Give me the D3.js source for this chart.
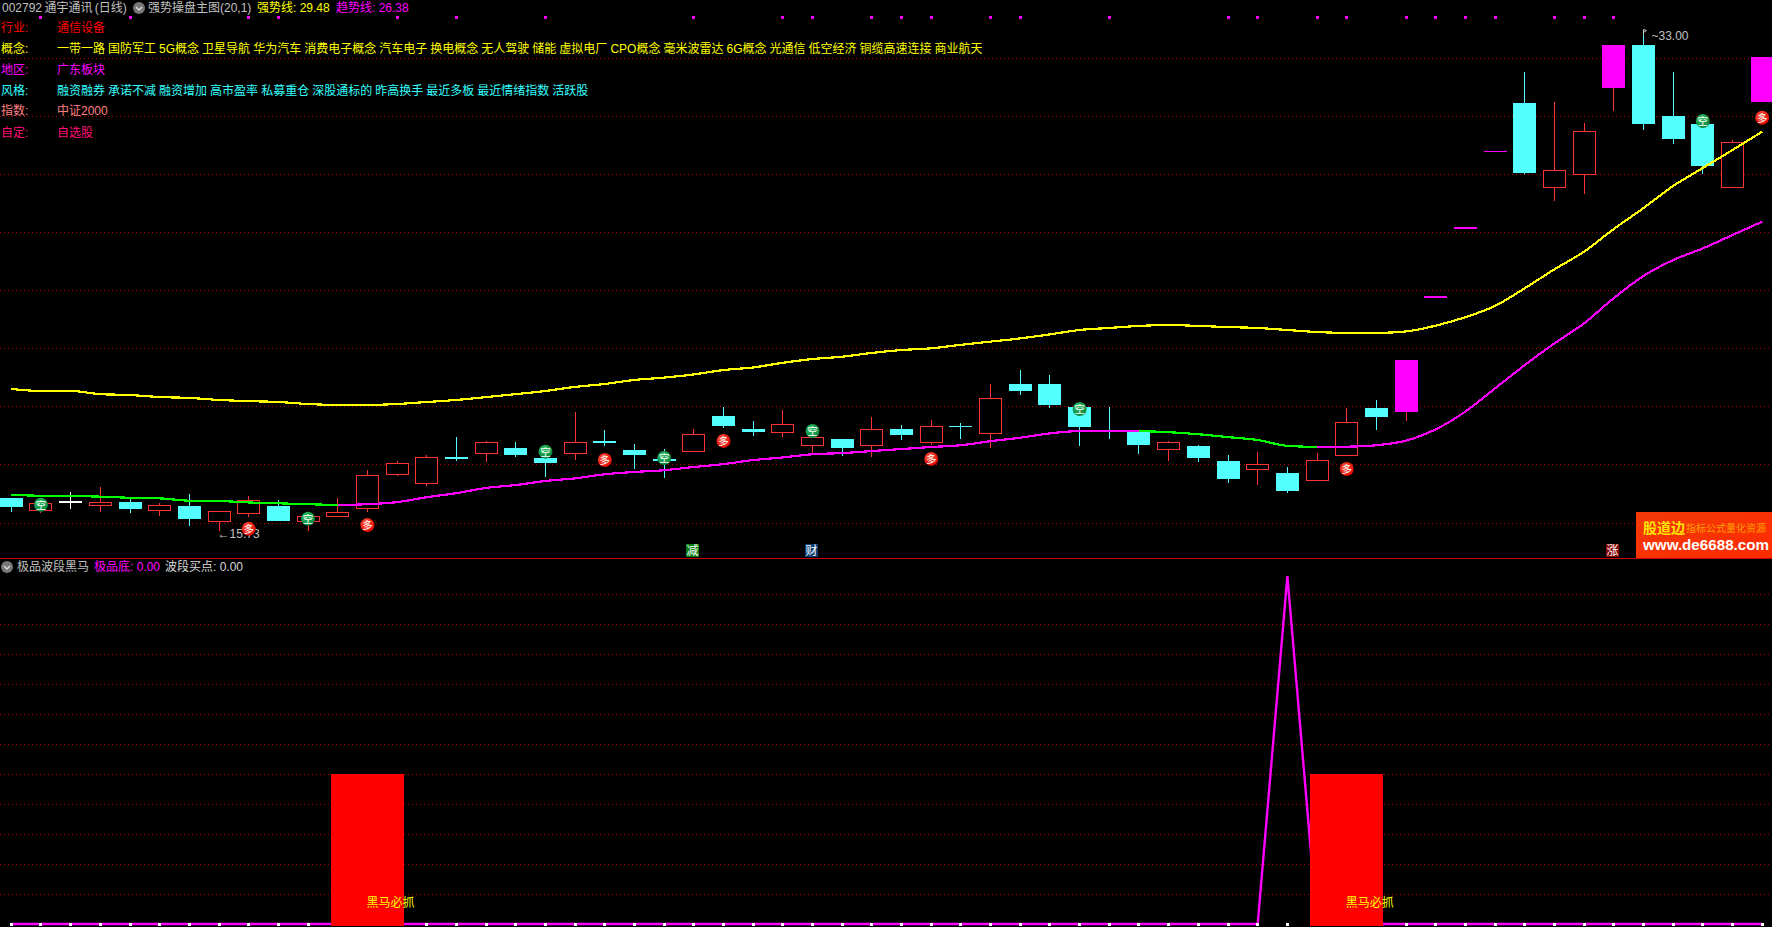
<!DOCTYPE html>
<html><head><meta charset="utf-8">
<style>html,body{margin:0;padding:0;background:#000;overflow:hidden}svg{display:block}
text{font-family:"Liberation Sans","Noto Sans CJK SC",sans-serif;font-size:12px;white-space:pre}</style>
<script src="https://cdnjs.cloudflare.com/ajax/libs/d3/7.8.5/d3.min.js"></script>
</head><body><svg id="c" width="1772" height="927"></svg>
<script>
// ---------- data ----------
const opens  =[16.86,16.42,16.72,16.60,16.72,16.42,16.59,16.05,16.32,16.59,16.05,16.22,16.49,17.66,17.35,18.27,18.39,18.58,18.24,18.39,18.83,18.52,18.21,18.46,19.69,19.23,19.11,18.66,18.89,18.66,19.24,18.77,19.35,19.08,20.79,20.79,20.00,19.19,19.13,18.53,18.65,18.14,17.84,17.72,17.46,18.31,19.96,19.83,23.78,26.16,28.80,30.47,27.55,28.00,30.98,32.47,30.02,29.75,27.55,30.50];
const highs  =[16.86,16.68,17.07,17.23,16.85,16.69,17.00,16.40,16.93,16.79,16.36,16.86,17.83,18.14,18.34,18.96,18.83,18.79,18.24,19.82,19.20,18.72,18.55,19.23,20.00,19.51,19.89,19.00,18.89,19.65,19.38,19.55,19.45,20.79,21.27,21.10,20.14,20.00,19.20,18.83,18.69,18.34,18.45,17.93,18.41,19.96,20.24,21.62,23.78,26.16,28.80,31.54,30.50,29.78,32.47,33.00,31.54,29.75,29.19,32.05];
const lows   =[16.39,16.36,16.49,16.39,16.36,16.24,15.90,15.73,16.21,16.07,15.74,16.22,16.38,17.62,17.27,18.14,18.11,18.27,17.59,18.17,18.65,17.86,17.55,18.46,19.27,19.00,18.96,18.38,18.31,18.27,18.86,18.69,18.89,18.59,20.41,19.96,18.65,18.89,18.38,18.14,18.10,17.38,17.31,17.03,17.46,18.31,19.20,19.53,23.78,26.16,28.80,28.02,27.09,27.33,30.19,29.54,29.06,28.02,27.55,30.50];
const closes =[16.55,16.68,16.72,16.71,16.48,16.61,16.14,16.40,16.78,16.07,16.23,16.37,17.64,18.06,18.26,18.20,18.78,18.34,18.07,18.78,18.76,18.34,18.14,19.06,19.34,19.14,19.40,18.95,18.58,19.23,19.03,19.33,19.31,20.30,20.55,20.07,19.31,19.15,18.69,18.78,18.24,17.52,18.02,17.10,18.16,19.47,19.65,21.62,23.78,26.16,28.80,28.06,28.15,29.49,32.47,29.75,29.23,28.30,29.11,32.05];
const limitUpBars=[47,48,49,50,54,59];
const whiteDojiBars=[2];
const strongLine=[20.62,20.55,20.55,20.44,20.41,20.34,20.31,20.24,20.20,20.17,20.10,20.07,20.07,20.10,20.17,20.24,20.34,20.44,20.55,20.69,20.79,20.93,21.01,21.12,21.27,21.36,21.52,21.65,21.73,21.86,21.96,22.02,22.14,22.25,22.36,22.50,22.65,22.72,22.79,22.82,22.79,22.75,22.72,22.65,22.58,22.55,22.55,22.60,22.80,23.09,23.48,24.09,24.74,25.35,26.13,26.85,27.61,28.23,28.85,29.48];
const trendLine=[16.97,16.94,16.93,16.91,16.87,16.85,16.77,16.76,16.71,16.68,16.65,16.62,16.65,16.72,16.89,17.03,17.21,17.31,17.45,17.54,17.68,17.76,17.82,17.93,18.03,18.17,18.26,18.37,18.41,18.48,18.55,18.62,18.68,18.82,18.94,19.09,19.17,19.18,19.17,19.13,19.06,18.96,18.86,18.66,18.62,18.63,18.68,18.84,19.23,19.84,20.64,21.44,22.19,22.88,23.75,24.51,25.06,25.46,25.92,26.38];
const greenRuns=[[0,11],[38,44]];
const magentaRuns=[[11,38],[44,59]];
const duoBars=[8,12,20,24,31,45,59];
const duoPrices=[15.80,15.93,18.17,18.83,18.21,17.86,29.96];
const kongBars=[1,10,18,22,27,36,57];
const kongPrices=[16.63,16.15,18.46,18.24,19.17,19.93,29.85];
const topDotBars=[1,4,8,9,13,15,18,23,26,27,29,30,31,33,34,37,41,42,44,45,47,48,49,50,52,53,54];
const gridPrices=[32,30,28,26,24,22,20,18,16];
const gridLower=[10,20,30,40,50,60,70,80,90,100,110];
const lowerLineBars=[0,42,43,44,59];
const lowerLineVals=[0,0,116,0,0];
const lowerBarBars=[12,45];
const lowerBarVal=50;
const lowerBarLabel="黑马必抓";
const badgeBars=[23,27,54];
const badgeText=["减","财","涨"];
const badgeFill=["#0a7d14","#0b3d73","#8a0505"];
const tagNames=["行业:","概念:","地区:","风格:","指数:","自定:"];
const tagValues=["通信设备","一带一路 国防军工 5G概念 卫星导航 华为汽车 消费电子概念 汽车电子 换电概念 无人驾驶 储能 虚拟电厂 CPO概念 毫米波雷达 6G概念 光通信 低空经济 铜缆高速连接 商业航天","广东板块","融资融券 承诺不减 融资增加 高市盈率 私募重仓 深股通标的 昨高换手 最近多板 最近情绪指数 活跃股","中证2000","自选股"];
const tagColors=["#ff0000","#ffff00","#ff00ff","#33ffff","#ff8080","#ff0f78"];

// ---------- layout ----------
const W=1772,H=927,svg=d3.select("#c");
const x=d3.scaleLinear().domain([0,59]).range([11.3,1762.2]);
const y=d3.scaleLinear().domain([33,15.73]).range([29.5,530.9]);
const yL=d3.scaleLinear().domain([0,115]).range([924,579]);
const BW=23;
const RED="#ff3232",CY="#54ffff",MG="#ff00ff";
const bars=d3.range(60);
const crisp=s=>s.attr("shape-rendering","crispEdges");
svg.append("rect").attr("width",W).attr("height",H).attr("fill","#000");

const defs=svg.append("defs");
function grad(id,a,b){const g=defs.append("radialGradient").attr("id",id).attr("cx","40%").attr("cy","35%").attr("r","70%");
 g.append("stop").attr("offset","0").attr("stop-color",a);g.append("stop").attr("offset","1").attr("stop-color",b);}
grad("gDuo","#ff5a3c","#e00000");grad("gKong","#2fbf63","#06803a");
const wm=defs.append("linearGradient").attr("id","gWm").attr("x1",0).attr("x2",1).attr("y1",0).attr("y2",1);
wm.append("stop").attr("offset","0").attr("stop-color","#f23a06");wm.append("stop").attr("offset","1").attr("stop-color","#ff2a00");

// grids
const gridG=svg.append("g").attr("stroke","#b40000").attr("stroke-width",1).attr("stroke-dasharray","1 3");
crisp(gridG.selectAll(".a").data(gridPrices).join("line").attr("class","a").attr("x1",0).attr("x2",W).attr("y1",d=>y(d)).attr("y2",d=>y(d)));
crisp(gridG.selectAll(".b").data(gridLower).join("line").attr("class","b").attr("x1",0).attr("x2",W).attr("y1",d=>yL(d)).attr("y2",d=>yL(d)));
crisp(svg.append("line").attr("x1",0).attr("x2",W).attr("y1",558.5).attr("y2",558.5).attr("stroke","#c80000").attr("stroke-width",1.5));

// badges
badgeBars.forEach((b,i)=>{
 const bx=Math.floor(x(b))-7;
 crisp(svg.append("rect").attr("x",bx).attr("y",544).attr("width",13).attr("height",13).attr("fill",badgeFill[i]));
 svg.append("text").attr("x",bx+6.5).attr("y",554.8).attr("text-anchor","middle").attr("fill","#fff").text(badgeText[i]);
});

// candles
const cG=svg.append("g");
bars.forEach(i=>{
 const o=opens[i],h=highs[i],l=lows[i],c=closes[i],cx=Math.floor(x(i))+0.5;
 const lim=limitUpBars.includes(i),up=c>o,white=whiteDojiBars.includes(i);
 const col=white?"#ffffff":lim?MG:(up?RED:CY);
 const wickCol=white?"#ffffff":(lim?RED:col);
 const top=y(Math.max(o,c)),bot=y(Math.min(o,c));
 if(o===c){
  crisp(cG.append("line").attr("x1",cx).attr("x2",cx).attr("y1",y(h)).attr("y2",y(l)).attr("stroke",wickCol));
  crisp(cG.append("line").attr("x1",cx-11.5).attr("x2",cx+11.5).attr("y1",y(c)).attr("y2",y(c)).attr("stroke",col).attr("stroke-width",lim?1.4:1.5));
  return;
 }
 crisp(cG.append("line").attr("x1",cx).attr("x2",cx).attr("y1",y(h)).attr("y2",top).attr("stroke",wickCol));
 crisp(cG.append("line").attr("x1",cx).attr("x2",cx).attr("y1",bot).attr("y2",y(l)).attr("stroke",wickCol));
 if(up&&!lim){
  crisp(cG.append("rect").attr("x",cx-11).attr("y",top).attr("width",BW-1).attr("height",bot-top).attr("fill","#000").attr("stroke",RED).attr("stroke-width",1));
 }else{
  crisp(cG.append("rect").attr("x",cx-11.5).attr("y",top).attr("width",BW).attr("height",bot-top).attr("fill",col));
 }
});

// labels of extremes
const flagX=x(55),flagY=y(33);
svg.append("path").attr("d",d3.line()([[flagX,flagY+6],[flagX,flagY],[flagX+3,flagY+1],[flagX,flagY+3]])).attr("fill","none").attr("stroke","#c8c8c8");
svg.append("text").attr("x",flagX+8).attr("y",flagY+10).attr("fill","#c0c0c0").text("~33.00");
svg.append("text").attr("x",x(7)-1.5).attr("y",y(15.73)+7).attr("fill","#c0c0c0").text("←15.73");

// MA lines
const ln=vals=>d3.line().x(i=>x(i)).y(i=>y(vals[i])).curve(d3.curveMonotoneX);
const drawMA=(idx,vals,col)=>svg.append("path").attr("d",ln(vals)(idx)).attr("fill","none").attr("stroke",col).attr("stroke-width",2.2).attr("shape-rendering","crispEdges");
drawMA(bars,strongLine,"#ffff00");
greenRuns.forEach(r=>drawMA(d3.range(r[0],r[1]+1),trendLine,"#00ff00"));
magentaRuns.forEach(r=>drawMA(d3.range(r[0],r[1]+1),trendLine,MG));

// markers
function marker(b,p,fill,t){
 const g=svg.append("g").attr("transform",`translate(${x(b)},${y(p)})`);
 g.append("circle").attr("r",7).attr("fill",`url(#${fill})`);
 g.append("text").attr("y",4).attr("text-anchor","middle").attr("fill","#fff").style("font-size","10.5px").text(t);
}
duoBars.forEach((b,i)=>marker(b,duoPrices[i],"gDuo","多"));
kongBars.forEach((b,i)=>marker(b,kongPrices[i],"gKong","空"));

// top dots
crisp(svg.append("g").selectAll("rect").data(topDotBars).join("rect").attr("x",d=>Math.floor(x(d))-1).attr("y",16).attr("width",3).attr("height",3).attr("fill",MG));

// lower panel
const lowerPts=lowerLineBars.map((b,i)=>[x(b),yL(lowerLineVals[i])]);
svg.append("path").attr("d",d3.line()(lowerPts)).attr("fill","none").attr("stroke",MG).attr("stroke-width",2.4);
crisp(svg.append("g").selectAll("rect").data(bars).join("rect").attr("x",d=>Math.floor(x(d))-1).attr("y",923).attr("width",3).attr("height",3).attr("fill","#fff"));
lowerBarBars.forEach(b=>{
 crisp(svg.append("rect").attr("x",x(b)-36.5).attr("width",73).attr("y",yL(lowerBarVal)).attr("height",yL(0)-yL(lowerBarVal)+1.5).attr("fill","#ff0000"));
 svg.append("text").attr("x",x(b)-1).attr("y",907).attr("fill","#ffff00").text(lowerBarLabel);
});

// header
function hdr(px,py,t,c){return svg.append("text").attr("x",px).attr("y",py).attr("fill",c).text(t);}
function icon(px,py){svg.append("circle").attr("cx",px).attr("cy",py).attr("r",6).attr("fill","#777");
 svg.append("path").attr("d",d3.line()([[px-3,py-1],[px,py+2],[px+3,py-1]])).attr("fill","none").attr("stroke","#ddd").attr("stroke-width",1.4);}
hdr(2,12,"002792 通宇通讯 (日线)","#c0c0c0").style("word-spacing","-1px");
icon(139,8);
hdr(148,12,"强势操盘主图(20,1)","#c0c0c0");
hdr(257,12,"强势线: 29.48","#ffff00");
hdr(336,12,"趋势线: 26.38","#ff00ff");
const rowY=[32,53,74,95,115,137];
tagNames.forEach((t,i)=>{
 hdr(1,rowY[i],t,tagColors[i]);
 hdr(57,rowY[i],tagValues[i],tagColors[i]).style("word-spacing","-0.3px");
});
icon(7,567);
hdr(17,571,"极品波段黑马","#c0c0c0");
hdr(94,571,"极品底: 0.00","#ff00ff");
hdr(165,571,"波段买点: 0.00","#d8d8d8");

// watermark
crisp(svg.append("rect").attr("x",1636).attr("y",512).attr("width",136).attr("height",46).attr("fill","url(#gWm)"));
svg.append("text").attr("x",1643).attr("y",533).attr("fill","#ffe600").attr("font-weight",700).style("font-size","14px").text("股道边");
svg.append("text").attr("x",1686).attr("y",532).attr("fill","#ffa000").style("font-size","10px").text("指标公式量化资源");
svg.append("text").attr("x",1643).attr("y",549.5).attr("fill","#fff").attr("font-weight",700).style("font-size","15.2px").text("www.de6688.com");
</script></body></html>
